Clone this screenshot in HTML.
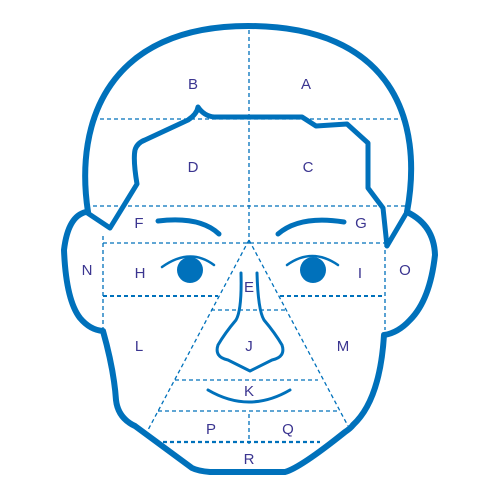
<!DOCTYPE html>
<html><head><meta charset="utf-8"><style>
html,body{margin:0;padding:0;background:#fff;width:500px;height:500px;overflow:hidden}
text{font-family:"Liberation Sans",sans-serif;font-size:15px;fill:#3b3590;text-anchor:middle}
</style></head><body>
<svg width="500" height="500" viewBox="0 0 500 500">
<g fill="none" stroke="#0071bb" stroke-width="1.3" stroke-dasharray="4,3">
<line x1="249" y1="30" x2="249" y2="244"/>
<line x1="249" y1="414" x2="249" y2="444"/>
<line x1="93" y1="119" x2="404" y2="119"/>
<line x1="86" y1="206" x2="408" y2="206"/>
<line x1="103" y1="236" x2="103" y2="330"/>
<line x1="385" y1="243" x2="385" y2="330"/>
<line x1="103" y1="243" x2="385" y2="243"/>
<line x1="103" y1="296" x2="218" y2="296" stroke-width="2"/>
<line x1="280" y1="296" x2="385" y2="296" stroke-width="2"/>
<line x1="249" y1="240" x2="148" y2="430"/>
<line x1="249" y1="240" x2="348" y2="426"/>
<line x1="211" y1="310" x2="286" y2="310"/>
<line x1="175" y1="380" x2="318" y2="380"/>
<line x1="158" y1="411" x2="338" y2="411"/>
<line x1="163" y1="442" x2="320" y2="442" stroke-width="2.2"/>
</g>
<g fill="none" stroke="#0071bb" stroke-linecap="round" stroke-linejoin="round">
<path stroke-width="6" d="M88,212 C74,120 110,26 248,26 C392,26 424,120 407,212"/>
<path stroke-width="5" d="M86,212 L110,228 L137,184 Q133,160 135,150 Q137,143 145,140 L188,120 Q197,114 198,107 Q204,116 214,117 L302,117 L316,126 L347,124 L368,143 L368,188 L383,208 L387,246 L407,212"/>
<path stroke-width="6" d="M86,212 Q68,216 64,250 Q66,300 80,318 Q90,330 103,331 Q114,370 116,400 Q118,418 135,426 L192,468 Q198,471 210,472 L285,472 Q300,468 345,432 Q351,428 353,425"/>
<path stroke-width="6" d="M407,212 Q434,225 435,255 Q430,300 410,320 Q398,333 384,335 Q380,400 353,425"/>
<path stroke-width="5" d="M158,221 Q200,216 219,234"/>
<path stroke-width="5" d="M278,234 Q300,215 344,222"/>
<path stroke-width="2.5" d="M162,267 Q190,247 214,265"/>
<path stroke-width="2.5" d="M287,265 Q312,247 338,265"/>
<path stroke-width="3" d="M241,273 Q242,310 236,320 Q225,333 218,345 Q214,357 228,360 Q240,366 250,371 Q260,366 272,360 Q286,357 282,345 Q275,333 264,320 Q258,310 257,273"/>
<path stroke-width="3" d="M208,390 Q249,414 290,390"/>
</g>
<circle cx="190" cy="270" r="13" fill="#0071bb"/>
<circle cx="313" cy="270" r="13" fill="#0071bb"/>
<g>
<text x="306" y="89">A</text>
<text x="193" y="89">B</text>
<text x="308" y="172">C</text>
<text x="193" y="172">D</text>
<text x="139" y="228">F</text>
<text x="361" y="228">G</text>
<text x="87" y="275">N</text>
<text x="140" y="278">H</text>
<text x="360" y="278">I</text>
<text x="405" y="275">O</text>
<text x="249" y="292">E</text>
<text x="139" y="351">L</text>
<text x="249" y="351">J</text>
<text x="343" y="351">M</text>
<text x="249" y="396">K</text>
<text x="211" y="434">P</text>
<text x="288" y="434">Q</text>
<text x="249" y="464">R</text>
</g>
</svg>
</body></html>
